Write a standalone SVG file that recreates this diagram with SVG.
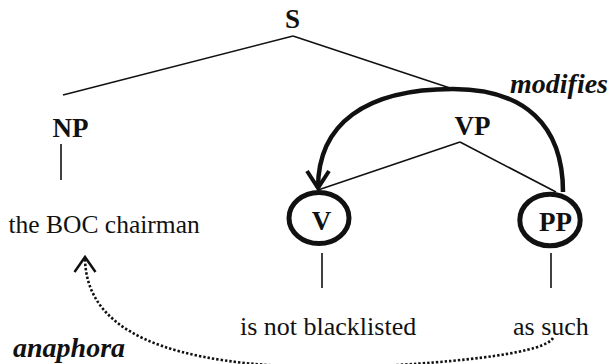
<svg xmlns="http://www.w3.org/2000/svg" width="612" height="364" viewBox="0 0 612 364">
<style>
text{font-family:"Liberation Serif","Times New Roman",serif;fill:#111}
.lab{font-weight:bold;font-size:27px;text-anchor:middle}
.word{font-size:26px}
.rel{font-weight:bold;font-style:italic;font-size:28px}
.edge{stroke:#111;stroke-width:1.6;fill:none}
.ring{stroke:#111;stroke-width:5;fill:none}
.arc{stroke:#111;stroke-width:4.5;fill:none}
.dots{stroke:#111;stroke-width:2.6;fill:none;stroke-dasharray:2.4 2}
</style>
<defs>
<marker id="headBold" markerUnits="userSpaceOnUse" orient="auto" refX="0" refY="0" markerWidth="40" markerHeight="40" overflow="visible">
<path d="M-17,-11 L0,0 L-17,11" fill="none" stroke="#111" stroke-width="4"/>
</marker>
<marker id="headThin" markerUnits="userSpaceOnUse" orient="auto" refX="0" refY="0" markerWidth="40" markerHeight="40" overflow="visible">
<path d="M-15,-10.5 L0,0 L-15,10.5" fill="none" stroke="#111" stroke-width="2.5"/>
</marker>
</defs>
<g id="connectors">
<line class="edge" x1="293" y1="36" x2="63" y2="95"/>
<line class="edge" x1="293" y1="36" x2="453" y2="89"/>
<line class="edge" x1="61" y1="144" x2="61" y2="180"/>
<line class="edge" x1="460" y1="142" x2="318" y2="190"/>
<line class="edge" x1="460" y1="142" x2="556" y2="192"/>
<line class="edge" x1="322" y1="253" x2="322" y2="288"/>
<line class="edge" x1="551" y1="253" x2="551" y2="288"/>
<path id="modifies-arc" class="arc" d="M563,192 C563,125 524.5,89 453,89 C365,89 318,124 318,188" marker-end="url(#headBold)"/>
<path id="anaphora-arc" class="dots" d="M553,338 C545,352 470,362 360,367 C200,370 85,345 85,257" marker-end="url(#headThin)"/>
</g>
<g id="node-S"><text class="lab" x="292.5" y="28">S</text></g>
<g id="node-NP"><text class="lab" x="70.5" y="136.5">NP</text></g>
<g id="node-VP"><text class="lab" x="472.5" y="134.5">VP</text></g>
<g id="node-V"><ellipse class="ring" cx="319" cy="218" rx="30" ry="25.5"/><text class="lab" x="321.5" y="230">V</text></g>
<g id="node-PP"><ellipse class="ring" cx="550" cy="220" rx="30.2" ry="25.8"/><text class="lab" x="555.5" y="231">PP</text></g>
<g id="leaf-NP"><text class="word" x="8.5" y="233" style="font-size:25.5px">the BOC chairman</text></g>
<g id="leaf-V"><text class="word" x="240" y="335">is not blacklisted</text></g>
<g id="leaf-PP"><text class="word" x="513" y="335">as such</text></g>
<g id="label-modifies"><text class="rel" x="510" y="93">modifies</text></g>
<g id="label-anaphora"><text class="rel" x="13" y="357">anaphora</text></g>
</svg>
